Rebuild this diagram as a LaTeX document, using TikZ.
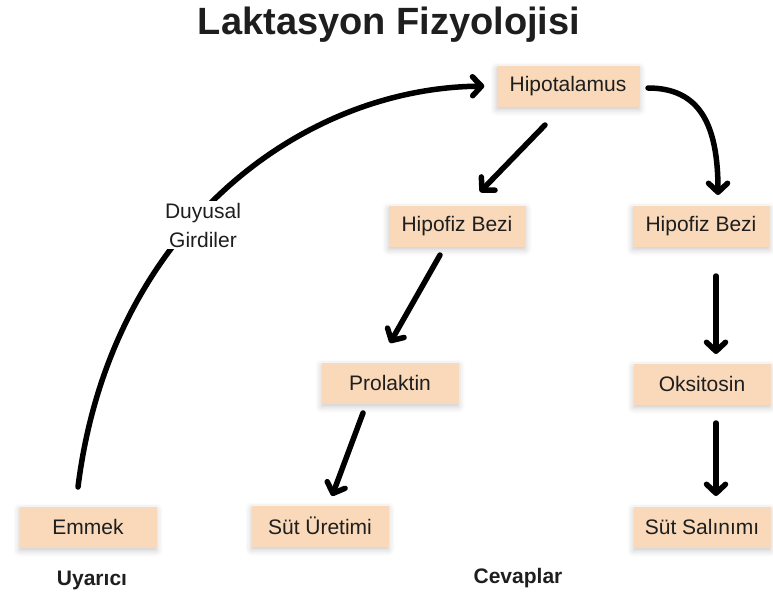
\documentclass[tikz,border=0pt]{standalone}
\usepackage{fontspec}
\setmainfont{Liberation Sans}
\usetikzlibrary{arrows.meta,shadows.blur}
\definecolor{boxfill}{HTML}{F9D9B9}
\definecolor{txt}{HTML}{1E1E1E}
\tikzset{
  box/.style={fill=boxfill, minimum width=137pt, minimum height=41pt, inner sep=0pt,
    text=txt, font=\fontsize{21}{24}\selectfont,
    blur shadow={shadow xshift=0pt, shadow yshift=-3pt, shadow blur radius=6pt, shadow opacity=22}},
  conn/.style={line width=5.5pt, line cap=round, -{Straight Barb[length=9pt,width=19pt,round]}},
  lbl/.style={font=\fontsize{21}{24}\selectfont\bfseries, text=txt}
}
\begin{document}
\begin{tikzpicture}[x=1pt,y=-1pt]
\useasboundingbox (0,0) rectangle (773,595);
\node[font=\fontsize{38}{42}\selectfont\bfseries, text=txt] (title) at (389,25) {Laktasyon Fizyolojisi};
\node[box, minimum width=143pt] (hip) at (568,86) {Hipotalamus};
\node[box] (hb1) at (457,226) {Hipofiz Bezi};
\node[box] (hb2) at (701,226) {Hipofiz Bezi};
\node[box] (pro) at (390,383) {Prolaktin};
\node[box] (oks) at (702,384) {Oksitosin};
\node[box] (emm) at (88,527) {Emmek};
\node[box] (sur) at (320,526) {Süt Üretimi};
\node[box] (sal) at (702,527) {Süt Salınımı};
\node[lbl] (uy) at (92,580) {Uyarıcı};
\node[lbl] (cev) at (518,578) {Cevaplar};
\coordinate (e0) at (78,487);
\draw[conn, shorten >=12pt] (e0) .. controls (110,230) and (300,88) .. (hip.west);
\node[fill=white, inner sep=2pt, align=center, text=txt, font=\fontsize{21}{29}\selectfont] (duy) at (203,225) {Duyusal\\Girdiler};
\coordinate (a1) at (545,125);
\draw[conn] (a1) -- (480,192);
\coordinate (a2) at (648,88);
\draw[conn] (a2) .. controls (700,88) and (718,125) .. (718,195);
\coordinate (b1) at (440,255);
\draw[conn] (b1) -- (390,343);
\coordinate (b2) at (716,276);
\draw[conn] (b2) -- (716,354);
\coordinate (c1) at (363,413);
\draw[conn] (c1) -- (332,496);
\coordinate (c2) at (716,423);
\draw[conn] (c2) -- (716,496);
\end{tikzpicture}
\end{document}
